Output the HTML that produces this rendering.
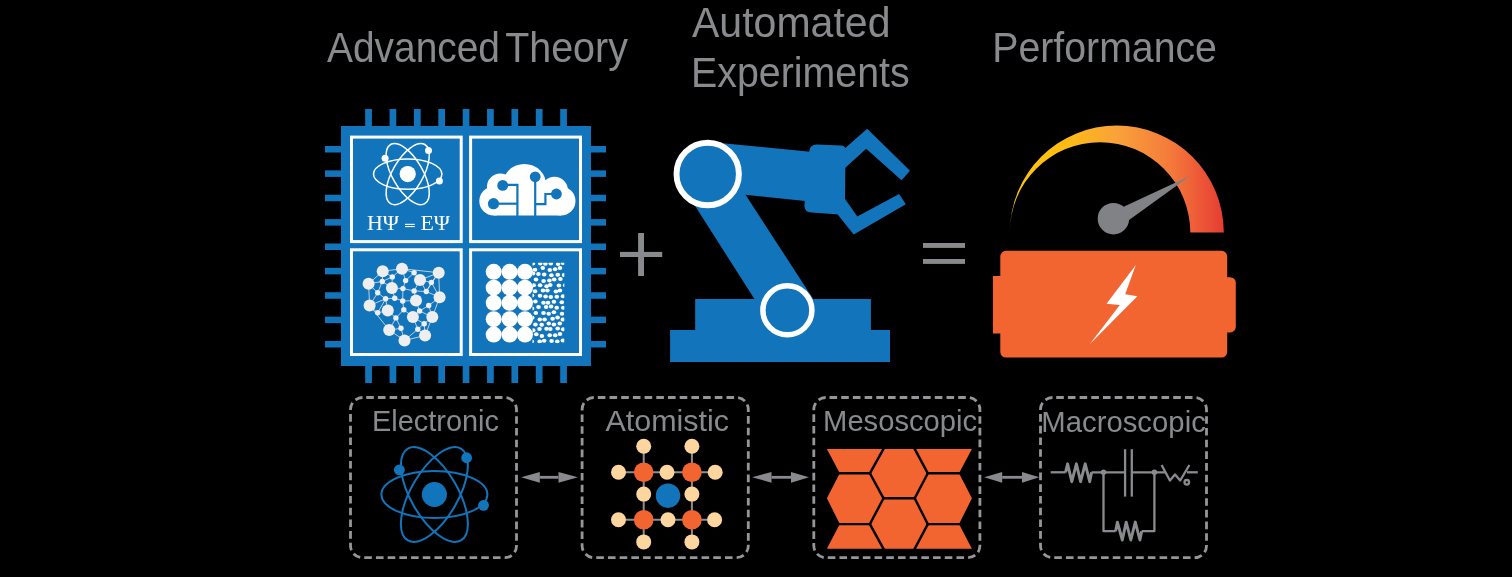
<!DOCTYPE html>
<html><head><meta charset="utf-8"><style>html,body{margin:0;padding:0;background:#000;width:1512px;height:577px;overflow:hidden}svg{display:block;will-change:transform}</style></head>
<body><svg width="1512" height="577" viewBox="0 0 1512 577">
<rect width="1512" height="577" fill="#000"/>
<rect x="341" y="126" width="250" height="240" fill="#1275bc"/>
<rect x="365.20" y="109" width="6.7" height="17.5" fill="#1275bc"/>
<rect x="365.20" y="365.5" width="6.7" height="17.5" fill="#1275bc"/>
<rect x="325" y="146.00" width="16.5" height="6.5" fill="#1275bc"/>
<rect x="590.5" y="146.00" width="15.5" height="6.5" fill="#1275bc"/>
<rect x="389.57" y="109" width="6.7" height="17.5" fill="#1275bc"/>
<rect x="389.57" y="365.5" width="6.7" height="17.5" fill="#1275bc"/>
<rect x="325" y="170.38" width="16.5" height="6.5" fill="#1275bc"/>
<rect x="590.5" y="170.38" width="15.5" height="6.5" fill="#1275bc"/>
<rect x="413.95" y="109" width="6.7" height="17.5" fill="#1275bc"/>
<rect x="413.95" y="365.5" width="6.7" height="17.5" fill="#1275bc"/>
<rect x="325" y="194.75" width="16.5" height="6.5" fill="#1275bc"/>
<rect x="590.5" y="194.75" width="15.5" height="6.5" fill="#1275bc"/>
<rect x="438.32" y="109" width="6.7" height="17.5" fill="#1275bc"/>
<rect x="438.32" y="365.5" width="6.7" height="17.5" fill="#1275bc"/>
<rect x="325" y="219.12" width="16.5" height="6.5" fill="#1275bc"/>
<rect x="590.5" y="219.12" width="15.5" height="6.5" fill="#1275bc"/>
<rect x="462.70" y="109" width="6.7" height="17.5" fill="#1275bc"/>
<rect x="462.70" y="365.5" width="6.7" height="17.5" fill="#1275bc"/>
<rect x="325" y="243.50" width="16.5" height="6.5" fill="#1275bc"/>
<rect x="590.5" y="243.50" width="15.5" height="6.5" fill="#1275bc"/>
<rect x="487.07" y="109" width="6.7" height="17.5" fill="#1275bc"/>
<rect x="487.07" y="365.5" width="6.7" height="17.5" fill="#1275bc"/>
<rect x="325" y="267.88" width="16.5" height="6.5" fill="#1275bc"/>
<rect x="590.5" y="267.88" width="15.5" height="6.5" fill="#1275bc"/>
<rect x="511.45" y="109" width="6.7" height="17.5" fill="#1275bc"/>
<rect x="511.45" y="365.5" width="6.7" height="17.5" fill="#1275bc"/>
<rect x="325" y="292.25" width="16.5" height="6.5" fill="#1275bc"/>
<rect x="590.5" y="292.25" width="15.5" height="6.5" fill="#1275bc"/>
<rect x="535.83" y="109" width="6.7" height="17.5" fill="#1275bc"/>
<rect x="535.83" y="365.5" width="6.7" height="17.5" fill="#1275bc"/>
<rect x="325" y="316.62" width="16.5" height="6.5" fill="#1275bc"/>
<rect x="590.5" y="316.62" width="15.5" height="6.5" fill="#1275bc"/>
<rect x="560.20" y="109" width="6.7" height="17.5" fill="#1275bc"/>
<rect x="560.20" y="365.5" width="6.7" height="17.5" fill="#1275bc"/>
<rect x="325" y="341.00" width="16.5" height="6.5" fill="#1275bc"/>
<rect x="590.5" y="341.00" width="15.5" height="6.5" fill="#1275bc"/>
<rect x="351.5" y="137.1" width="109.7" height="104.5" fill="none" stroke="#fff" stroke-width="3"/>
<rect x="470.6" y="137.1" width="109.9" height="104.5" fill="none" stroke="#fff" stroke-width="3"/>
<rect x="351.5" y="249.8" width="109.7" height="104.7" fill="none" stroke="#fff" stroke-width="3"/>
<rect x="470.6" y="249.8" width="109.9" height="104.7" fill="none" stroke="#fff" stroke-width="3"/>
<g transform="translate(407.7,174.1)" fill="none" stroke="#fff" stroke-width="1.5"><ellipse cx="0" cy="0" rx="34.20" ry="15.20" transform="rotate(0)"/><ellipse cx="0" cy="0" rx="34.20" ry="15.20" transform="rotate(60)"/><ellipse cx="0" cy="0" rx="34.20" ry="15.20" transform="rotate(-60)"/></g>
<circle cx="407.7" cy="174.1" r="8.10" fill="#fff"/>
<circle cx="428.50" cy="150.40" r="3.50" fill="#fff"/>
<circle cx="385.10" cy="158.20" r="3.50" fill="#fff"/>
<circle cx="439.40" cy="181.10" r="3.50" fill="#fff"/>
<text x="367" y="230.1" font-family="Liberation Serif" font-size="21.3" fill="#fff" textLength="32" lengthAdjust="spacingAndGlyphs">HΨ</text>
<text x="420.5" y="230.1" font-family="Liberation Serif" font-size="21.3" fill="#fff" textLength="29.5" lengthAdjust="spacingAndGlyphs">EΨ</text>
<rect x="405" y="223.8" width="9.8" height="1.1" fill="#fff"/><rect x="405" y="226" width="9.8" height="1.1" fill="#fff"/>
<g fill="#fff"><circle cx="493.8" cy="201" r="14.5"/><circle cx="500.3" cy="187" r="13.4"/><circle cx="524.4" cy="185.9" r="22"/><circle cx="554.5" cy="190.2" r="13.4"/><circle cx="561" cy="201" r="14.5"/><rect x="493.8" y="186" width="67.2" height="29.5"/></g>
<g stroke="#1275bc" stroke-width="2.2" fill="none"><polyline points="502.7,184.9 517.4,184.9 517.4,216"/><polyline points="493.5,203.7 517.4,203.7"/><polyline points="535.2,176.8 535.2,216"/><polyline points="556.4,194 545.4,194 545.4,204.2 535.2,204.2"/></g>
<g fill="#1275bc"><circle cx="502.7" cy="185.4" r="5.4"/><circle cx="493.5" cy="203.7" r="5.6"/><circle cx="535.2" cy="176.8" r="5.4"/><circle cx="556.4" cy="194" r="5.4"/></g>
<g stroke="#eeeeee" stroke-width="0.75"><line x1="412.9" y1="317.0" x2="417.8" y2="329.2"/><line x1="424.2" y1="323.7" x2="417.8" y2="329.2"/><line x1="416.0" y1="300.6" x2="402.7" y2="301.0"/><line x1="402.9" y1="288.6" x2="414.1" y2="290.9"/><line x1="439.6" y1="297.3" x2="428.7" y2="305.5"/><line x1="414.1" y1="290.9" x2="426.3" y2="291.5"/><line x1="389.2" y1="330.1" x2="395.9" y2="317.9"/><line x1="369.6" y1="305.5" x2="389.2" y2="330.1"/><line x1="391.9" y1="287.9" x2="394.7" y2="298.2"/><line x1="382.7" y1="271.3" x2="382.3" y2="281.5"/><line x1="369.6" y1="305.5" x2="385.6" y2="298.8"/><line x1="404.5" y1="340.4" x2="417.8" y2="329.2"/><line x1="402.0" y1="268.7" x2="405.6" y2="280.6"/><line x1="425.1" y1="335.5" x2="404.5" y2="340.4"/><line x1="402.0" y1="268.7" x2="392.3" y2="276.9"/><line x1="438.7" y1="272.7" x2="426.3" y2="291.5"/><line x1="412.9" y1="317.0" x2="419.6" y2="311.0"/><line x1="439.6" y1="297.3" x2="432.3" y2="317.0"/><line x1="392.3" y1="276.9" x2="382.3" y2="281.5"/><line x1="432.3" y1="317.0" x2="424.2" y2="323.7"/><line x1="439.6" y1="297.3" x2="426.3" y2="291.5"/><line x1="416.0" y1="300.6" x2="414.1" y2="290.9"/><line x1="425.1" y1="335.5" x2="424.2" y2="323.7"/><line x1="402.7" y1="301.0" x2="403.8" y2="309.7"/><line x1="403.8" y1="309.7" x2="395.9" y2="317.9"/><line x1="382.7" y1="271.3" x2="402.0" y2="268.7"/><line x1="391.9" y1="287.9" x2="392.3" y2="276.9"/><line x1="438.7" y1="272.7" x2="420.0" y2="280.0"/><line x1="391.9" y1="287.9" x2="402.9" y2="288.6"/><line x1="389.2" y1="330.1" x2="401.0" y2="328.3"/><line x1="382.3" y1="281.5" x2="377.7" y2="292.8"/><line x1="404.5" y1="340.4" x2="401.0" y2="328.3"/><line x1="431.4" y1="282.4" x2="426.3" y2="291.5"/><line x1="420.0" y1="280.0" x2="426.3" y2="291.5"/><line x1="432.3" y1="317.0" x2="425.1" y2="335.5"/><line x1="369.6" y1="305.5" x2="377.7" y2="292.8"/><line x1="387.8" y1="310.6" x2="377.7" y2="312.8"/><line x1="428.7" y1="305.5" x2="419.6" y2="311.0"/><line x1="402.0" y1="268.7" x2="438.7" y2="272.7"/><line x1="387.8" y1="310.6" x2="395.9" y2="317.9"/><line x1="438.7" y1="272.7" x2="431.4" y2="282.4"/><line x1="412.9" y1="317.0" x2="424.2" y2="323.7"/><line x1="385.6" y1="298.8" x2="394.7" y2="298.2"/><line x1="412.9" y1="317.0" x2="403.8" y2="309.7"/><line x1="385.6" y1="298.8" x2="377.7" y2="312.8"/><line x1="414.1" y1="272.7" x2="405.6" y2="280.6"/><line x1="405.6" y1="280.6" x2="402.9" y2="288.6"/><line x1="439.6" y1="297.3" x2="431.4" y2="282.4"/><line x1="425.1" y1="335.5" x2="417.8" y2="329.2"/><line x1="416.0" y1="300.6" x2="419.6" y2="311.0"/><line x1="389.2" y1="330.1" x2="404.5" y2="340.4"/><line x1="420.0" y1="280.0" x2="414.1" y2="272.7"/><line x1="377.7" y1="292.8" x2="385.6" y2="298.8"/><line x1="402.9" y1="288.6" x2="402.7" y2="301.0"/><line x1="368.6" y1="283.7" x2="369.6" y2="305.5"/><line x1="420.0" y1="280.0" x2="431.4" y2="282.4"/><line x1="368.6" y1="283.7" x2="382.3" y2="281.5"/><line x1="395.9" y1="317.9" x2="401.0" y2="328.3"/><line x1="420.0" y1="280.0" x2="414.1" y2="290.9"/><line x1="382.7" y1="271.3" x2="368.6" y2="283.7"/><line x1="368.6" y1="283.7" x2="377.7" y2="292.8"/><line x1="391.9" y1="287.9" x2="382.3" y2="281.5"/><line x1="382.7" y1="271.3" x2="392.3" y2="276.9"/><line x1="387.8" y1="310.6" x2="385.6" y2="298.8"/><line x1="369.6" y1="305.5" x2="377.7" y2="312.8"/><line x1="402.0" y1="268.7" x2="414.1" y2="272.7"/><line x1="438.7" y1="272.7" x2="439.6" y2="297.3"/><line x1="432.3" y1="317.0" x2="419.6" y2="311.0"/><line x1="432.3" y1="317.0" x2="428.7" y2="305.5"/><line x1="394.7" y1="298.2" x2="402.7" y2="301.0"/></g><g fill="#eeeeee"><circle cx="382.7" cy="271.3" r="6.0"/><circle cx="402.0" cy="268.7" r="6.0"/><circle cx="438.7" cy="272.7" r="6.0"/><circle cx="368.6" cy="283.7" r="6.0"/><circle cx="420.0" cy="280.0" r="6.0"/><circle cx="391.9" cy="287.9" r="6.0"/><circle cx="439.6" cy="297.3" r="6.0"/><circle cx="416.0" cy="300.6" r="6.0"/><circle cx="369.6" cy="305.5" r="6.0"/><circle cx="387.8" cy="310.6" r="6.0"/><circle cx="412.9" cy="317.0" r="6.0"/><circle cx="432.3" cy="317.0" r="6.0"/><circle cx="389.2" cy="330.1" r="6.0"/><circle cx="425.1" cy="335.5" r="6.0"/><circle cx="404.5" cy="340.4" r="6.0"/><circle cx="392.3" cy="276.9" r="2.7"/><circle cx="414.1" cy="272.7" r="2.7"/><circle cx="382.3" cy="281.5" r="2.7"/><circle cx="405.6" cy="280.6" r="2.7"/><circle cx="431.4" cy="282.4" r="2.7"/><circle cx="377.7" cy="292.8" r="2.7"/><circle cx="402.9" cy="288.6" r="2.7"/><circle cx="414.1" cy="290.9" r="2.7"/><circle cx="426.3" cy="291.5" r="2.7"/><circle cx="385.6" cy="298.8" r="2.7"/><circle cx="394.7" cy="298.2" r="2.7"/><circle cx="402.7" cy="301.0" r="2.7"/><circle cx="428.7" cy="305.5" r="2.7"/><circle cx="377.7" cy="312.8" r="2.7"/><circle cx="403.8" cy="309.7" r="2.7"/><circle cx="419.6" cy="311.0" r="2.7"/><circle cx="395.9" cy="317.9" r="2.7"/><circle cx="424.2" cy="323.7" r="2.7"/><circle cx="401.0" cy="328.3" r="2.7"/><circle cx="417.8" cy="329.2" r="2.7"/></g>
<g fill="#fff"><circle cx="493.7" cy="271.8" r="8"/><circle cx="493.7" cy="287.7" r="8"/><circle cx="493.7" cy="302.8" r="8"/><circle cx="493.7" cy="319.2" r="8"/><circle cx="493.7" cy="334.6" r="8"/><circle cx="509.6" cy="271.8" r="8"/><circle cx="509.6" cy="287.7" r="8"/><circle cx="509.6" cy="302.8" r="8"/><circle cx="509.6" cy="319.2" r="8"/><circle cx="509.6" cy="334.6" r="8"/><circle cx="525.0" cy="271.8" r="8"/><circle cx="525.0" cy="287.7" r="8"/><circle cx="525.0" cy="302.8" r="8"/><circle cx="525.0" cy="319.2" r="8"/><circle cx="525.0" cy="334.6" r="8"/></g><defs><clipPath id="dc"><rect x="532.5" y="262.8" width="31.8" height="80.5"/></clipPath></defs><g fill="#fff" clip-path="url(#dc)"><ellipse cx="532.9" cy="263.6" rx="2.3" ry="2.0"/><ellipse cx="540.3" cy="263.4" rx="2.3" ry="2.0"/><ellipse cx="545.4" cy="263.7" rx="2.3" ry="2.0"/><ellipse cx="550.8" cy="263.5" rx="2.3" ry="2.0"/><ellipse cx="558.1" cy="264.1" rx="2.3" ry="2.0"/><ellipse cx="562.9" cy="263.1" rx="2.3" ry="2.0"/><ellipse cx="535.0" cy="269.7" rx="2.3" ry="2.0"/><ellipse cx="542.8" cy="268.0" rx="2.3" ry="2.0"/><ellipse cx="549.8" cy="270.0" rx="2.3" ry="2.0"/><ellipse cx="555.1" cy="269.3" rx="2.3" ry="2.0"/><ellipse cx="560.0" cy="267.9" rx="2.3" ry="2.0"/><ellipse cx="533.1" cy="273.5" rx="2.3" ry="2.0"/><ellipse cx="538.4" cy="273.9" rx="2.3" ry="2.0"/><ellipse cx="544.2" cy="274.4" rx="2.3" ry="2.0"/><ellipse cx="551.4" cy="275.3" rx="2.3" ry="2.0"/><ellipse cx="557.8" cy="274.8" rx="2.3" ry="2.0"/><ellipse cx="564.0" cy="274.9" rx="2.3" ry="2.0"/><ellipse cx="536.0" cy="279.5" rx="2.3" ry="2.0"/><ellipse cx="543.6" cy="281.1" rx="2.3" ry="2.0"/><ellipse cx="549.4" cy="280.5" rx="2.3" ry="2.0"/><ellipse cx="554.2" cy="279.4" rx="2.3" ry="2.0"/><ellipse cx="560.4" cy="279.1" rx="2.3" ry="2.0"/><ellipse cx="533.7" cy="285.3" rx="2.3" ry="2.0"/><ellipse cx="540.1" cy="285.3" rx="2.3" ry="2.0"/><ellipse cx="546.6" cy="286.3" rx="2.3" ry="2.0"/><ellipse cx="550.3" cy="284.9" rx="2.3" ry="2.0"/><ellipse cx="558.9" cy="285.4" rx="2.3" ry="2.0"/><ellipse cx="565.2" cy="285.3" rx="2.3" ry="2.0"/><ellipse cx="535.0" cy="291.3" rx="2.3" ry="2.0"/><ellipse cx="543.0" cy="290.5" rx="2.3" ry="2.0"/><ellipse cx="547.4" cy="290.6" rx="2.3" ry="2.0"/><ellipse cx="555.9" cy="291.6" rx="2.3" ry="2.0"/><ellipse cx="559.9" cy="290.4" rx="2.3" ry="2.0"/><ellipse cx="532.0" cy="295.5" rx="2.3" ry="2.0"/><ellipse cx="540.0" cy="295.8" rx="2.3" ry="2.0"/><ellipse cx="545.6" cy="296.4" rx="2.3" ry="2.0"/><ellipse cx="550.8" cy="297.0" rx="2.3" ry="2.0"/><ellipse cx="556.8" cy="296.8" rx="2.3" ry="2.0"/><ellipse cx="563.0" cy="296.3" rx="2.3" ry="2.0"/><ellipse cx="535.4" cy="301.5" rx="2.3" ry="2.0"/><ellipse cx="543.5" cy="302.7" rx="2.3" ry="2.0"/><ellipse cx="548.0" cy="302.8" rx="2.3" ry="2.0"/><ellipse cx="553.9" cy="301.8" rx="2.3" ry="2.0"/><ellipse cx="561.8" cy="302.3" rx="2.3" ry="2.0"/><ellipse cx="532.0" cy="308.6" rx="2.3" ry="2.0"/><ellipse cx="538.5" cy="307.0" rx="2.3" ry="2.0"/><ellipse cx="546.1" cy="307.1" rx="2.3" ry="2.0"/><ellipse cx="551.1" cy="306.6" rx="2.3" ry="2.0"/><ellipse cx="556.7" cy="307.7" rx="2.3" ry="2.0"/><ellipse cx="563.3" cy="307.7" rx="2.3" ry="2.0"/><ellipse cx="535.8" cy="312.9" rx="2.3" ry="2.0"/><ellipse cx="543.5" cy="313.0" rx="2.3" ry="2.0"/><ellipse cx="548.7" cy="313.8" rx="2.3" ry="2.0"/><ellipse cx="553.9" cy="312.2" rx="2.3" ry="2.0"/><ellipse cx="562.0" cy="313.7" rx="2.3" ry="2.0"/><ellipse cx="532.3" cy="317.8" rx="2.3" ry="2.0"/><ellipse cx="539.8" cy="319.5" rx="2.3" ry="2.0"/><ellipse cx="544.6" cy="319.5" rx="2.3" ry="2.0"/><ellipse cx="552.6" cy="318.7" rx="2.3" ry="2.0"/><ellipse cx="557.6" cy="317.6" rx="2.3" ry="2.0"/><ellipse cx="562.8" cy="319.5" rx="2.3" ry="2.0"/><ellipse cx="535.4" cy="324.5" rx="2.3" ry="2.0"/><ellipse cx="541.7" cy="324.7" rx="2.3" ry="2.0"/><ellipse cx="548.8" cy="323.5" rx="2.3" ry="2.0"/><ellipse cx="553.9" cy="324.5" rx="2.3" ry="2.0"/><ellipse cx="559.8" cy="323.4" rx="2.3" ry="2.0"/><ellipse cx="533.2" cy="330.3" rx="2.3" ry="2.0"/><ellipse cx="539.5" cy="329.0" rx="2.3" ry="2.0"/><ellipse cx="546.5" cy="328.8" rx="2.3" ry="2.0"/><ellipse cx="550.3" cy="329.0" rx="2.3" ry="2.0"/><ellipse cx="557.7" cy="328.5" rx="2.3" ry="2.0"/><ellipse cx="563.2" cy="329.2" rx="2.3" ry="2.0"/><ellipse cx="536.3" cy="334.2" rx="2.3" ry="2.0"/><ellipse cx="541.9" cy="335.9" rx="2.3" ry="2.0"/><ellipse cx="549.7" cy="335.3" rx="2.3" ry="2.0"/><ellipse cx="555.2" cy="335.2" rx="2.3" ry="2.0"/><ellipse cx="560.0" cy="334.0" rx="2.3" ry="2.0"/><ellipse cx="531.7" cy="341.4" rx="2.3" ry="2.0"/><ellipse cx="539.7" cy="341.5" rx="2.3" ry="2.0"/><ellipse cx="544.2" cy="340.8" rx="2.3" ry="2.0"/><ellipse cx="551.6" cy="341.0" rx="2.3" ry="2.0"/><ellipse cx="557.3" cy="341.6" rx="2.3" ry="2.0"/><ellipse cx="562.9" cy="340.6" rx="2.3" ry="2.0"/></g>
<rect x="620" y="251.9" width="42.2" height="5.1" fill="#898a8d"/><rect x="638.1" y="233" width="5.9" height="43" fill="#898a8d"/>
<rect x="923" y="243" width="42" height="4.9" fill="#898a8d"/><rect x="923" y="259" width="42" height="4.9" fill="#898a8d"/>
<path d="M695.2,299.1 L870.9,299.1 L870.9,330.1 L890,330.1 L890,361.9 L670.1,361.9 L670.1,330.1 L695.2,330.1 Z" fill="#1275bc"/>
<polygon points="675.4,175 732.7,175 823.6,315 764.6,315" fill="#1275bc"/>
<polygon points="707.7,141.8 810,151.8 810,201.5 707.7,190.8" fill="#1275bc"/>
<path d="M817,144.5 L841,145.4 Q845.5,145.6 845.5,150 L845,199 L839.5,214.5 L811.5,212.6 Q804.4,212.2 804.4,205.5 L809.3,151 Q810,144.3 817,144.5 Z" fill="#1275bc"/>
<polygon points="843,150 867.2,128.8 910,170.7 901.5,180.3 866.2,148.8 845,168" fill="#1275bc"/>
<polygon points="844.6,198.2 857.3,216.4 899.1,193.9 905.8,204.3 853.7,234.6 837.3,214" fill="#1275bc"/>
<circle cx="707.7" cy="174" r="31.2" fill="#1275bc" stroke="#fff" stroke-width="5.9"/>
<circle cx="787.4" cy="310.3" r="24.5" fill="#1275bc" stroke="#fff" stroke-width="5.5"/>
<defs><linearGradient id="gg" x1="1010" y1="0" x2="1224" y2="0" gradientUnits="userSpaceOnUse"><stop offset="0" stop-color="#ffc40c"/><stop offset="0.25" stop-color="#ffbd12"/><stop offset="0.5" stop-color="#f9a23a"/><stop offset="0.75" stop-color="#f47a3b"/><stop offset="1" stop-color="#e63c33"/></linearGradient></defs>
<path d="M1009.8,232.5 A107,107 0 0 1 1223.8,232.5 L1190.3,232.5 A90.25,90.25 0 0 0 1009.8,232.5 Z" fill="url(#gg)"/>
<polygon points="1108,214 1190.3,175.7 1118,228" fill="#808285"/>
<circle cx="1113.4" cy="218.7" r="15.7" fill="#808285"/>
<path d="M1005.9,250.8 H1221.6 A5.6,5.6 0 0 1 1227.2,256.4 V277.2 H1230.2 A5.6,5.6 0 0 1 1235.8,282.8 V326.8 A5.6,5.6 0 0 1 1230.2,332.4 H1227.2 V352 A5.6,5.6 0 0 1 1221.6,357.6 H1005.9 A5.6,5.6 0 0 1 1000.3,352 V333.5 H992.9 V276 H1000.3 V256.4 A5.6,5.6 0 0 1 1005.9,250.8 Z" fill="#f26430"/>
<polygon points="1135.8,265 1106.5,303.7 1119.8,304.9 1089.7,344.2 1137.4,296.2 1125.2,294.3" fill="#fff"/>
<rect x="350.5" y="397.5" width="166.0" height="160.2" rx="12" fill="none" stroke="#959699" stroke-width="2.8" stroke-dasharray="7.6 4.1" stroke-dashoffset="-3.7"/>
<rect x="582.1" y="397.5" width="166.2" height="160.2" rx="12" fill="none" stroke="#959699" stroke-width="2.8" stroke-dasharray="7.6 4.1" stroke-dashoffset="-3.7"/>
<rect x="813.8" y="397.5" width="166.1" height="160.2" rx="12" fill="none" stroke="#959699" stroke-width="2.8" stroke-dasharray="7.6 4.1" stroke-dashoffset="-3.7"/>
<rect x="1040.5" y="397.5" width="166.0" height="160.2" rx="12" fill="none" stroke="#959699" stroke-width="2.8" stroke-dasharray="7.6 4.1" stroke-dashoffset="-3.7"/>
<rect x="539.8" y="475.90000000000003" width="18.700000000000045" height="2.8" fill="#898a8d"/>
<path d="M521.1,477.3 L539.8,471.90000000000003 L539.8,482.7 L521.1,477.3 Z" fill="#898a8d"/>
<path d="M577.9,477.3 L558.5,471.90000000000003 L558.5,482.7 L577.9,477.3 Z" fill="#898a8d"/>
<rect x="771.5" y="475.90000000000003" width="19.5" height="2.8" fill="#898a8d"/>
<path d="M752.1,477.3 L771.5,471.90000000000003 L771.5,482.7 L752.1,477.3 Z" fill="#898a8d"/>
<path d="M809.0,477.3 L791.0,471.90000000000003 L791.0,482.7 L809.0,477.3 Z" fill="#898a8d"/>
<rect x="1002.2" y="475.90000000000003" width="19.799999999999955" height="2.8" fill="#898a8d"/>
<path d="M984.2,477.3 L1002.2,471.90000000000003 L1002.2,482.7 L984.2,477.3 Z" fill="#898a8d"/>
<path d="M1039.3,477.3 L1022.0,471.90000000000003 L1022.0,482.7 L1039.3,477.3 Z" fill="#898a8d"/>
<g transform="translate(434.4,494.5)" fill="none" stroke="#1275bc" stroke-width="2.0"><ellipse cx="0" cy="0" rx="53.01" ry="23.56" transform="rotate(0)"/><ellipse cx="0" cy="0" rx="53.01" ry="23.56" transform="rotate(60)"/><ellipse cx="0" cy="0" rx="53.01" ry="23.56" transform="rotate(-60)"/></g>
<circle cx="434.4" cy="494.5" r="12.55" fill="#1275bc"/>
<circle cx="466.64" cy="457.76" r="5.42" fill="#1275bc"/>
<circle cx="399.37" cy="469.86" r="5.42" fill="#1275bc"/>
<circle cx="483.53" cy="505.35" r="5.42" fill="#1275bc"/>
<g stroke="#8c8d90" stroke-width="2"><line x1="643.7" y1="446" x2="643.7" y2="542"/><line x1="691.9" y1="446" x2="691.9" y2="542"/><line x1="618.5" y1="472.2" x2="715.2" y2="472.2"/><line x1="618.5" y1="519.7" x2="715.2" y2="519.7"/></g>
<g fill="#fdd59e"><circle cx="643.7" cy="446.2" r="7.5"/><circle cx="691.9" cy="446.2" r="7.5"/><circle cx="618.5" cy="472.2" r="7.5"/><circle cx="667" cy="472.2" r="7.5"/><circle cx="715.2" cy="472.2" r="7.5"/><circle cx="643.7" cy="494.1" r="7.5"/><circle cx="691.9" cy="494.1" r="7.5"/><circle cx="618.5" cy="519.7" r="7.5"/><circle cx="668" cy="519.7" r="7.5"/><circle cx="714.6" cy="519.7" r="7.5"/><circle cx="643.7" cy="541.9" r="7.5"/><circle cx="691.9" cy="541.9" r="7.5"/></g><g fill="#f26430"><circle cx="643.7" cy="472.2" r="9.8"/><circle cx="691.9" cy="472.2" r="9.8"/><circle cx="643.7" cy="519.7" r="9.8"/><circle cx="691.9" cy="519.7" r="9.8"/></g>
<circle cx="668" cy="495.7" r="12.2" fill="#1275bc"/>
<polygon points="826.9,448.9 971.9,448.9 959.0,473.3 971.9,498.3 959.0,524.1 971.9,548.8 826.9,548.8 839.8,524.1 826.9,498.3 839.8,473.3" fill="#f26430"/>
<g stroke="#000" stroke-width="2.4" stroke-linecap="square"><line x1="839.8" y1="473.3" x2="869.9" y2="473.3"/><line x1="927.8" y1="473.3" x2="959.0" y2="473.3"/><line x1="883.5" y1="498.3" x2="914.7" y2="498.3"/><line x1="839.8" y1="524.1" x2="869.9" y2="524.1"/><line x1="927.8" y1="524.1" x2="959.0" y2="524.1"/><line x1="883.5" y1="448.9" x2="869.9" y2="473.3"/><line x1="869.9" y1="473.3" x2="883.5" y2="498.3"/><line x1="883.5" y1="498.3" x2="869.9" y2="524.1"/><line x1="869.9" y1="524.1" x2="883.5" y2="548.8"/><line x1="914.7" y1="448.9" x2="927.8" y2="473.3"/><line x1="927.8" y1="473.3" x2="914.7" y2="498.3"/><line x1="914.7" y1="498.3" x2="927.8" y2="524.1"/><line x1="927.8" y1="524.1" x2="914.7" y2="548.8"/></g>
<g stroke="#8a8b8e" stroke-width="2.3" fill="none" stroke-linejoin="round"><polyline points="1050.7,472.3 1065.5,472.3"/><polyline stroke-width="2.9" points="1065.5,472.3 1067.6,463.8 1071.8,481.7 1076.4,463.8 1080.6,481.7 1085.2,463.8 1089.7,481.7 1091.6,472.3"/><polyline points="1091.6,472.3 1125.1,472.3"/><line x1="1125.1" y1="449.2" x2="1125.1" y2="496.6"/><line x1="1131.8" y1="449.2" x2="1131.8" y2="496.6"/><polyline points="1131.8,472.3 1165.3,472.3"/><polyline points="1103.5,472.3 1103.5,531.2 1115.6,531.2"/><polyline stroke-width="2.9" points="1115.6,531.2 1117.4,522.1 1122.3,540 1126.2,522.1 1130.8,540 1135.3,522.1 1139.9,540 1141.7,531.2"/><polyline points="1141.7,531.2 1154.4,531.2 1154.4,472.3"/><polyline points="1161.6,465 1169.9,480.5 1175,474.5 1180.2,480.5 1189.4,465"/><polyline points="1187,472.3 1197.8,472.3"/><circle cx="1186.8" cy="482.3" r="2.3"/><circle cx="1103.5" cy="472.3" r="1.6"/><circle cx="1154.4" cy="472.3" r="1.6"/></g>
<g style="opacity:0.999">
<text x="327.0" y="61.8" font-family="Liberation Sans" font-size="41.9" fill="#898a8d" textLength="173.0" lengthAdjust="spacingAndGlyphs" >Advanced</text>
<text x="505.2" y="61.8" font-family="Liberation Sans" font-size="41.9" fill="#898a8d" textLength="122.7" lengthAdjust="spacingAndGlyphs" >Theory</text>
<text x="692.0" y="36.7" font-family="Liberation Sans" font-size="41.9" fill="#898a8d" textLength="198.5" lengthAdjust="spacingAndGlyphs" >Automated</text>
<text x="691.1" y="86.7" font-family="Liberation Sans" font-size="41.9" fill="#898a8d" textLength="218.5" lengthAdjust="spacingAndGlyphs" >Experiments</text>
<text x="992.3" y="62.1" font-family="Liberation Sans" font-size="41.9" fill="#898a8d" textLength="224.6" lengthAdjust="spacingAndGlyphs" >Performance</text>
<text x="372.1" y="430.8" font-family="Liberation Sans" font-size="30" fill="#898a8d" textLength="126.9" lengthAdjust="spacingAndGlyphs" >Electronic</text>
<text x="605.4" y="430.8" font-family="Liberation Sans" font-size="30" fill="#898a8d" textLength="123.6" lengthAdjust="spacingAndGlyphs" >Atomistic</text>
<text x="823.1" y="430.9" font-family="Liberation Sans" font-size="30" fill="#898a8d" textLength="154.0" lengthAdjust="spacingAndGlyphs" >Mesoscopic</text>
<text x="1041.3" y="431.8" font-family="Liberation Sans" font-size="30" fill="#898a8d" textLength="164.5" lengthAdjust="spacingAndGlyphs" >Macroscopic</text>
</g>
</svg></body></html>
